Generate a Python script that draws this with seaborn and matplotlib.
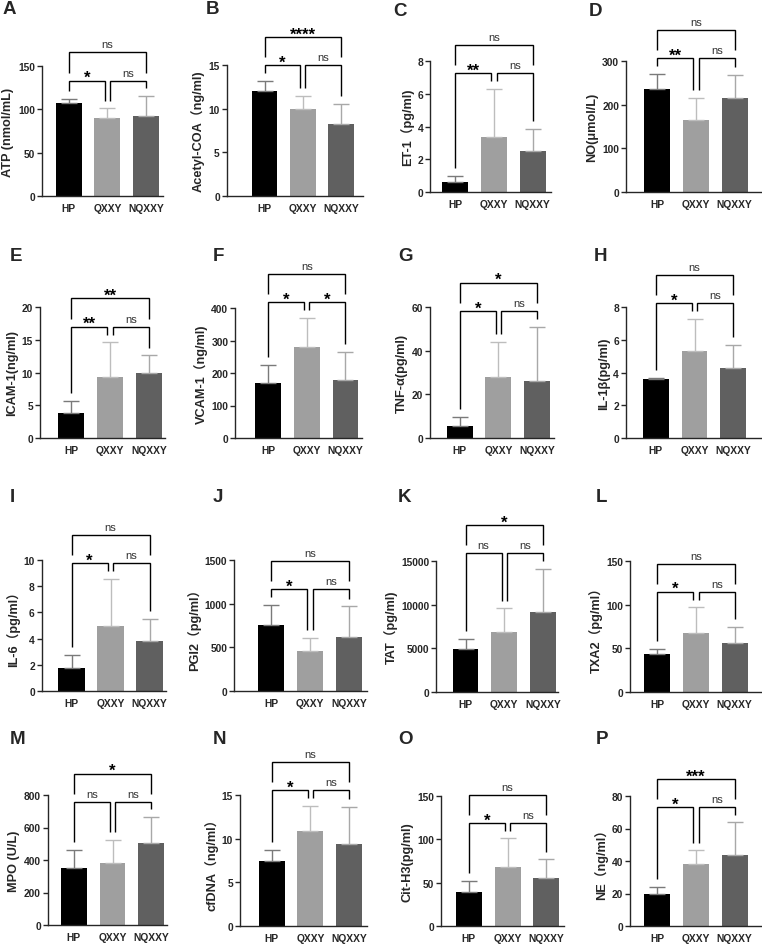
import matplotlib
matplotlib.use("Agg")
import matplotlib.pyplot as plt
import seaborn as sns
import pandas as pd
import numpy as np
from matplotlib.transforms import offset_copy

sns.set_style("ticks")
plt.rcParams['font.family'] = ['Liberation Sans', 'Noto Sans CJK SC', 'DejaVu Sans']

# ---------------- data ----------------
groups = ["HP", "QXXY", "NQXXY"]
letters = list("ABCDEFGHIJKLMNOP")
ylabels = ["ATP (nmol/mL)", "Acetyl-COA（ng/ml)", "ET-1（pg/ml)", "NO(μmol/L)",
           "ICAM-1(ng/ml)", "VCAM-1（ng/ml)", "TNF-α(pg/ml)", "IL-1β(pg/ml)",
           "IL-6（pg/ml）", "PGI2（pg/ml）", "TAT（pg/ml)", "TXA2（pg/ml）",
           "MPO (U/L)", "cfDNA（ng/ml）", "Cit-H3(pg/ml)", "NE（ng/ml）"]
means = [[107, 90.5, 92], [12.0, 9.95, 8.25], [0.6, 3.38, 2.5], [235, 166, 215],
         [3.8, 9.3, 10.0], [169, 280, 178], [5.6, 27.9, 26.3], [3.6, 5.33, 4.27],
         [1.76, 4.96, 3.84], [754, 459, 624], [4900, 6890, 9110], [43.2, 67.3, 56.6],
         [349, 381, 505], [7.4, 10.9, 9.4], [39, 68.5, 55.5], [19.8, 38.0, 43.7]]
errors = [[5, 10.5, 23], [1.2, 1.5, 2.25], [0.4, 2.93, 1.35], [36, 49, 53],
          [1.8, 5.3, 2.6], [55, 90, 87], [4.1, 16.0, 24.7], [0.08, 1.94, 1.43],
          [1.0, 3.6, 1.63], [233, 149, 344], [1220, 2680, 4970], [6.5, 29.5, 18],
          [115, 144, 158], [1.34, 2.86, 4.2], [13.4, 32.5, 21.4], [4.5, 8.5, 20]]
y_max = [150, 15, 8, 300, 20, 400, 60, 8, 10, 1500, 15000, 150, 800, 15, 150, 80]
y_step = [50, 5, 2, 100, 5, 100, 20, 2, 2, 500, 5000, 50, 200, 5, 50, 20]
# significance: [HP vs QXXY, QXXY vs NQXXY, HP vs NQXXY]
sig = [["*", "ns", "ns"], ["*", "ns", "****"], ["**", "ns", "ns"], ["**", "ns", "ns"],
       ["**", "ns", "**"], ["*", "*", "ns"], ["*", "ns", "*"], ["*", "ns", "ns"],
       ["*", "ns", "ns"], ["*", "ns", "ns"], ["ns", "ns", "*"], ["*", "ns", "ns"],
       ["ns", "ns", "*"], ["*", "ns", "ns"], ["*", "ns", "ns"], ["*", "ns", "***"]]

# ---------------- layout (pixels) ----------------
W, H = 762, 945
spine_x = [41.7, 226.7, 430.3, 626, 40, 235.3, 430, 626, 41.7, 234.3, 436, 630.3, 47.7, 240, 441, 630.3]
first_c = [68.8, 264.5, 455.2, 657.2, 71.2, 268, 459.7, 655.8, 71.5, 271, 465.5, 657.2, 73.8, 271.7, 468.8, 657.2]
last_c = [146, 341, 532.7, 734.7, 148.8, 345.5, 537.2, 733.2, 149.5, 348.8, 543, 734.7, 151.2, 349, 546.3, 734.7]
right_x = [163, 363, 551, 761, 165, 361.7, 554.3, 761, 165.7, 366.7, 557.7, 761, 166.7, 366.7, 564.3, 761]
top_y = [66.7, 66, 62, 62, 308, 309, 308, 308, 561, 561, 562, 562, 796, 796, 797, 797]
bot_y = [197.3, 197, 193, 193, 439, 439, 439, 439, 692, 692, 693, 693, 926, 927, 927, 927]
letter_xy = [(3, 1), (206, 1), (393, 3), (589, 3), (10, 248), (213, 248), (398, 248), (594, 248),
             (10, 489), (213, 489), (398, 489), (596, 489), (10, 731), (213, 731), (398, 731), (596, 731)]

bar_colors = ["#000000", "#9f9f9f", "#606060"]
err_colors = ["#7a7a7a", "#bdbdbd", "#a8a8a8"]

fig = plt.figure(figsize=(W / 100, H / 100), dpi=100)

for i in range(16):
    sp = (last_c[i] - first_c[i]) / 2
    x0 = -(first_c[i] - spine_x[i]) / sp
    x1 = (right_x[i] - first_c[i]) / sp
    ax = fig.add_axes([spine_x[i] / W, 1 - bot_y[i] / H,
                       (right_x[i] - spine_x[i]) / W, (bot_y[i] - top_y[i]) / H])
    df = pd.DataFrame({"group": groups, "value": means[i]})
    sns.barplot(data=df, x="group", y="value", hue="group", palette=bar_colors,
                width=0.67, ax=ax, legend=False, errorbar=None, saturation=1,
                linewidth=0)
    for j in range(3):
        ax.errorbar([j], [means[i][j]], yerr=[[0], [errors[i][j]]], fmt='none',
                    ecolor=err_colors[j], elinewidth=1.0, capsize=5.5, capthick=1.0,
                    zorder=1)
    ymax = y_max[i]
    ax.set_xlim(x0, x1)
    ax.set_ylim(0, ymax)
    ax.set_yticks(np.arange(0, ymax + y_step[i] / 2, y_step[i]))
    ax.set_xlabel("")
    ax.set_ylabel(ylabels[i], fontsize=9.2, fontweight='bold', labelpad=2.5)
    for lab in ax.get_xticklabels() + ax.get_yticklabels():
        lab.set_fontweight('bold')
        lab.set_fontsize(7.4)
    ax.tick_params(axis='x', length=0, pad=5)
    ax.tick_params(axis='y', length=3.5, width=1.0, pad=1.5)
    sns.despine(ax=ax)
    for s in ["left", "bottom"]:
        ax.spines[s].set_linewidth(1.0)

    # brackets
    tops = [means[i][j] + errors[i][j] for j in range(3)]
    gap = 0.06 * ymax
    small = max(tops) + 0.12 * ymax
    big = small + 0.215 * ymax
    d = 0.07
    kw = dict(color='black', lw=1.0, clip_on=False, solid_capstyle='butt',
              solid_joinstyle='miter')
    ax.plot([0, 0, 1 - d, 1 - d], [tops[0] + gap, small, small, tops[1] + gap], **kw)
    ax.plot([1 + d, 1 + d, 2, 2], [tops[1] + gap, small, small, tops[2] + gap], **kw)
    ax.plot([0, 0, 2, 2], [small + gap, big, big, small + gap], **kw)
    for (xc, yl, txt) in [(0.5 - d / 2, small, sig[i][0]), (1.5 + d / 2, small, sig[i][1]),
                          (1.0, big, sig[i][2])]:
        if txt == "ns":
            tr = offset_copy(ax.transData, fig=fig, y=8, units='dots')
            ax.text(xc, yl, txt, transform=tr, ha='center', va='center',
                    fontsize=8, color='#333333', clip_on=False)
        else:
            tr = offset_copy(ax.transData, fig=fig, y=3, units='dots')
            ax.text(xc, yl, txt, transform=tr, ha='center', va='center',
                    fontsize=12, fontweight='bold', color='black', clip_on=False)

    lx, ly = letter_xy[i]
    fig.text(lx / W, 1 - ly / H, letters[i], fontsize=13.5, fontweight='bold',
             ha='left', va='top')

fig.savefig("out.png", dpi=100)
